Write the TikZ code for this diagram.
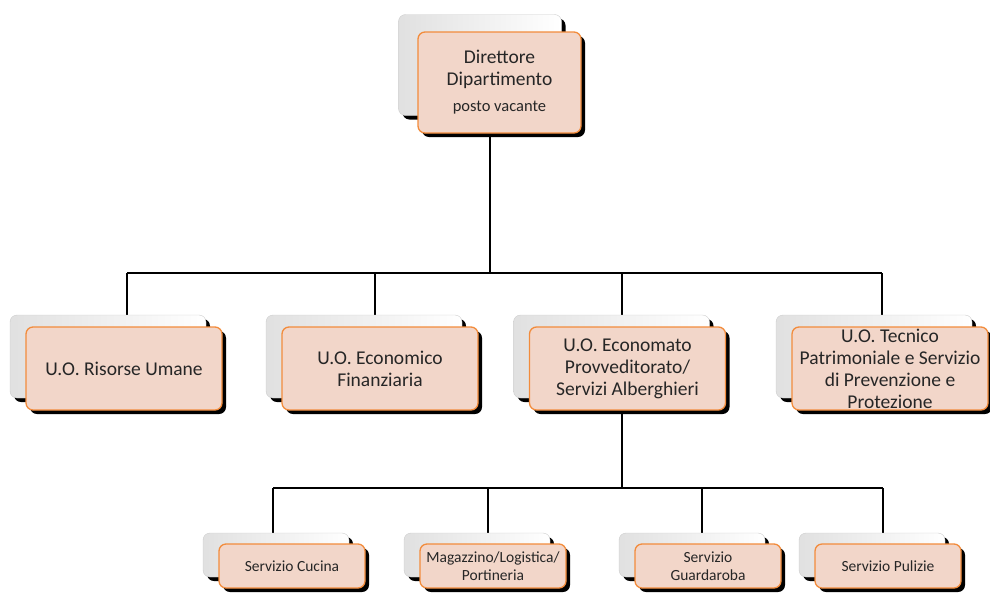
\documentclass[tikz,border=0pt]{standalone}
\usepackage{fontspec}
\setmainfont{Carlito}
\usetikzlibrary{shadows,backgrounds,positioning}
\definecolor{peach}{RGB}{242,214,201}
\definecolor{ocra}{RGB}{242,140,60}

\tikzset{
  backbox/.style={rectangle,rounded corners=7pt,inner sep=0pt,
    left color=black!12,middle color=white,right color=white,draw=black!20,
    drop shadow={shadow xshift=4pt,shadow yshift=-4pt,opacity=1,fill=black}},
  frontbox/.style={rectangle,rounded corners=7pt,inner sep=0pt,align=center,
    fill=peach,draw=ocra,line width=1.3pt,text=black!85,
    drop shadow={shadow xshift=4pt,shadow yshift=-4pt,opacity=1,fill=black}},
  capo/.style={minimum width=163pt,minimum height=101pt,font=\fontsize{19.5}{22}\selectfont},
  uo/.style={minimum width=196pt,minimum height=83pt,font=\fontsize{19.5}{22}\selectfont},
  serv/.style={minimum width=146pt,minimum height=44pt,font=\fontsize{15.5}{18}\selectfont},
  link/.style={line width=1.6pt,black}
}

\begin{document}
\begin{tikzpicture}[x=1pt,y=-1pt]
\useasboundingbox (0,0) rectangle (990,592);

% direttore
\node[backbox,capo] (dir-b) at (480,65) {};
\node[frontbox,capo] (dir) at (499.5,82.5) {Direttore\\Dipartimento\\[4pt]{\fontsize{16.5}{18}\selectfont posto vacante}};

% unita' operative
\node[backbox,uo] (ru-b) at (108,356.5) {};
\node[frontbox,uo] (ru) at (124,368.5) {U.O. Risorse Umane};
\node[backbox,uo] (ef-b) at (364,356.5) {};
\node[frontbox,uo] (ef) at (380,368.5) {U.O. Economico\\Finanziaria};
\node[backbox,uo] (ep-b) at (611.5,356.5) {};
\node[frontbox,uo] (ep) at (627.5,368.5) {U.O. Economato\\Provveditorato/\\Servizi Alberghieri};
\node[backbox,uo] (tp-b) at (874,356.5) {};
\node[frontbox,uo] (tp) at (890,368.5) {U.O. Tecnico\\Patrimoniale e Servizio\\di Prevenzione e\\Protezione};

% servizi
\node[backbox,serv] (cuc-b) at (276,555) {};
\node[frontbox,serv] (cuc) at (292,566) {Servizio Cucina};
\node[backbox,serv] (mag-b) at (477,555) {};
\node[frontbox,serv] (mag) at (493,566) {Magazzino/Logistica/\\Portineria};
\node[backbox,serv] (gua-b) at (692,555) {};
\node[frontbox,serv] (gua) at (708,566) {Servizio\\Guardaroba};
\node[backbox,serv] (pul-b) at (872,555) {};
\node[frontbox,serv] (pul) at (888,566) {Servizio Pulizie};

\coordinate (bus1) at (0,273);
\coordinate (bus2) at (0,488);

\begin{pgfonlayer}{background}
\draw[link] ([xshift=-9.5pt]dir.center) -- ([xshift=-9.5pt]dir.center |- bus1);
\draw[link] ([xshift=3pt]ru.center |- bus1) -- ([xshift=-8pt]tp.center |- bus1);
\foreach \n/\dx in {ru/3,ef/-5,ep/-5.5,tp/-8}
  \draw[link] ([xshift=\dx pt]\n.center |- bus1) -- ([xshift=\dx pt]\n.center);
\draw[link] ([xshift=-5.5pt]ep.center) -- ([xshift=-5.5pt]ep.center |- bus2);
\draw[link] ([xshift=-19pt]cuc.center |- bus2) -- ([xshift=-5pt]pul.center |- bus2);
\foreach \n/\dx in {cuc/-19,mag/-5,gua/-6,pul/-5}
  \draw[link] ([xshift=\dx pt]\n.center |- bus2) -- ([xshift=\dx pt]\n.center);
\end{pgfonlayer}
\end{tikzpicture}
\end{document}
